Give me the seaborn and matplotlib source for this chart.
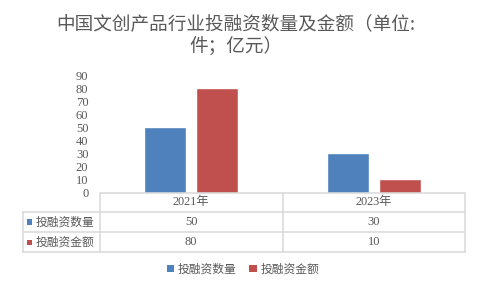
import matplotlib
matplotlib.use('Agg')
import matplotlib.pyplot as plt
import seaborn as sns
import pandas as pd
from matplotlib.lines import Line2D
from matplotlib.patches import Rectangle, Patch

title = "中国文创产品行业投融资数量及金额（单位:\n件；亿元）"
categories = ["2021年", "2023年"]
series_names = ["投融资数量", "投融资金额"]
count_values = [50, 30]
amount_values = [80, 10]
colors = ["#4F81BD", "#C0504D"]
yticks = [0, 10, 20, 30, 40, 50, 60, 70, 80, 90]

sns.set_theme(style='white')
plt.rcParams['font.family'] = ['Noto Sans CJK SC', 'DejaVu Sans']

W, H = 480, 288
fig = plt.figure(figsize=(4.8, 2.88), dpi=100)
fig.patch.set_facecolor('white')


def fx(x):
    return x / W


def fy(y):
    return 1 - y / H


TXT = '#595959'
GRID = '#D9D9D9'
serif = ['Liberation Serif', 'Noto Sans CJK SC']

# Plot area
x_left, x_mid, x_right = 99.5, 282.5, 465.3
x_tab = 23.3
y_top, y0, y1, y2, y3 = 75, 192.5, 211.8, 232.3, 252.3

ax = fig.add_axes([fx(x_left), fy(y0), (x_right - x_left) / W, (y0 - y_top) / H])
df = pd.DataFrame({
    'cat': categories * 2,
    'series': [s for s in series_names for _ in categories],
    'value': count_values + amount_values,
})
sns.barplot(data=df, x='cat', y='value', hue='series', palette=colors,
            width=0.57, gap=0.2, ax=ax, legend=False, saturation=1,
            errorbar=None)
ax.set_ylim(0, 90)
ax.set_xlim(-0.5, 1.5)
ax.set_yticks(yticks)
ax.set_yticklabels([str(v) for v in yticks], family=serif, fontsize=9, color=TXT)
ax.tick_params(axis='y', length=0, pad=8)
ax.set_xticks([])
ax.set_xlabel('')
ax.set_ylabel('')
for s in ax.spines.values():
    s.set_visible(False)
ax.patch.set_alpha(0)

# Data table
def hline(y, xa, xb):
    fig.add_artist(Line2D([fx(xa), fx(xb)], [fy(y), fy(y)], transform=fig.transFigure,
                          color=GRID, lw=1.1))


def vline(x, ya, yb):
    fig.add_artist(Line2D([fx(x), fx(x)], [fy(ya), fy(yb)], transform=fig.transFigure,
                          color=GRID, lw=1.1))


hline(y0, x_left, x_right)
hline(y1, x_tab, x_right)
hline(y2, x_tab, x_right)
hline(y3, x_tab, x_right)
vline(x_left, y0, y3)
vline(x_mid, y0, y3)
vline(x_right, y0, y3)
vline(x_tab, y1, y3)

col_centers = [(x_left + x_mid) / 2, (x_mid + x_right) / 2]
for cx, c in zip(col_centers, categories):
    fig.text(fx(cx), fy((y0 + y1) / 2), c, ha='center', va='center',
             fontsize=8.8, color=TXT, family=serif)

rows = [count_values, amount_values]
row_centers = [(y1 + y2) / 2, (y2 + y3) / 2]
for ry, name, vals, col in zip(row_centers, series_names, rows, colors):
    fig.add_artist(Rectangle((fx(26.8), fy(ry + 2.8)), 5.6 / W, 5.6 / H,
                             transform=fig.transFigure, facecolor=col, edgecolor='none'))
    fig.text(fx(35.5), fy(ry), name, ha='left', va='center', fontsize=8.5, color=TXT)
    for cx, v in zip(col_centers, vals):
        fig.text(fx(cx), fy(ry), str(v), ha='center', va='center',
                 fontsize=9, color=TXT, family=serif)

# Legend
handles = [Patch(facecolor=c, edgecolor='none') for c in colors]
fig.legend(handles, series_names, loc='center', bbox_to_anchor=(fx(243), fy(269)),
           ncol=2, frameon=False, fontsize=8.5, handlelength=0.6, handleheight=0.6,
           handletextpad=0.3, columnspacing=1.1, labelcolor=TXT)

# Title
fig.text(fx(236), fy(35.5), title, ha='center', va='center', fontsize=13.4,
         color=TXT, linespacing=1.3, multialignment='center')

fig.savefig('out.png', dpi=100, facecolor='white')
